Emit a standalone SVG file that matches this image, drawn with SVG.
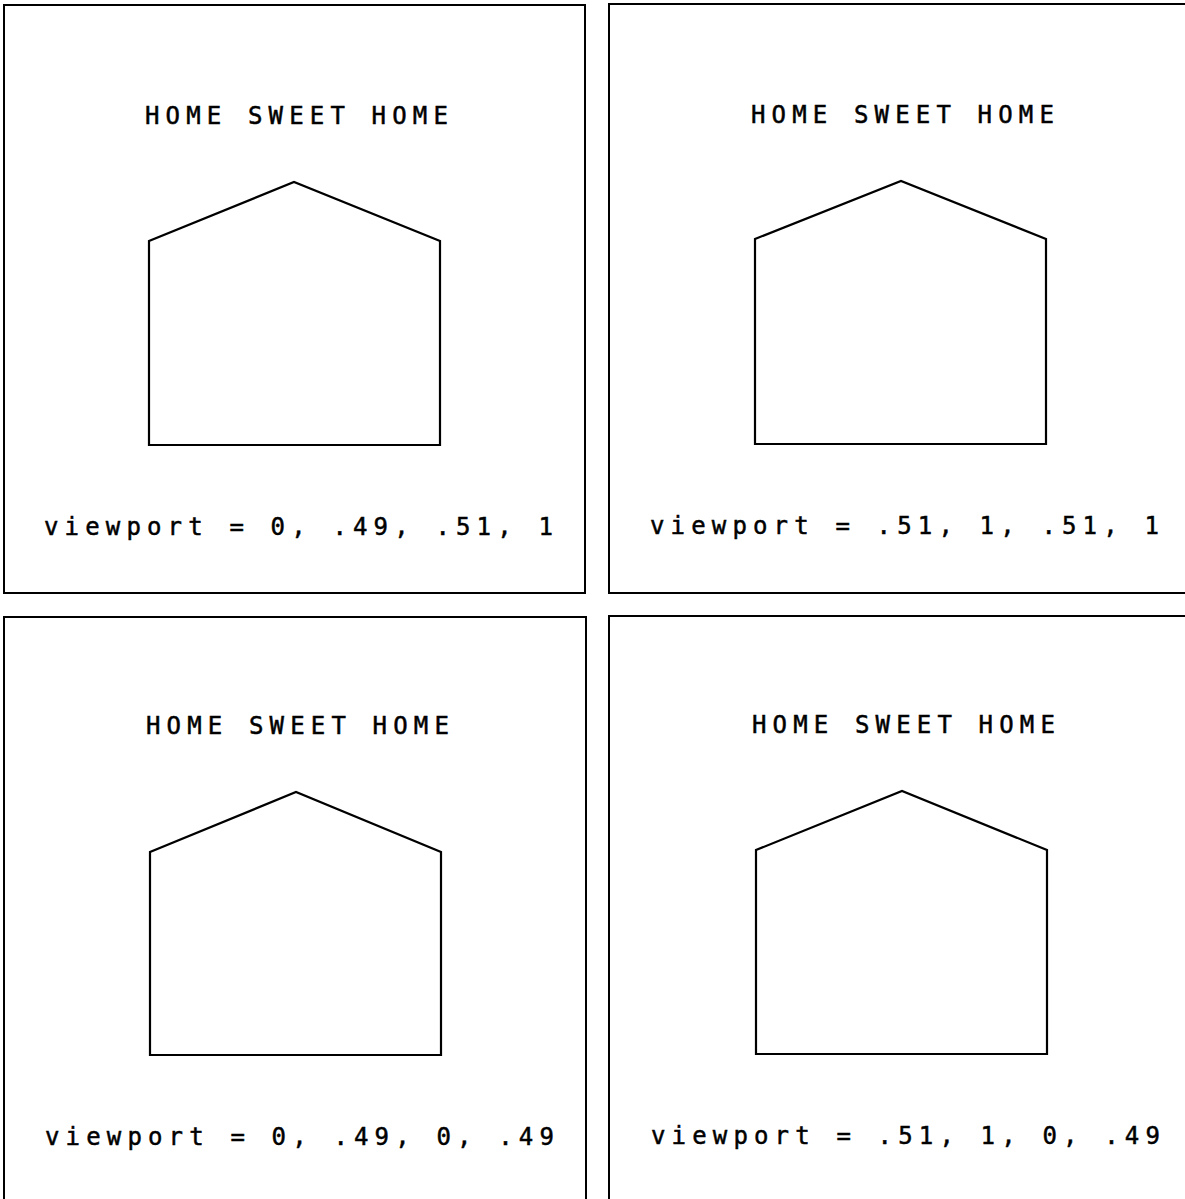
<svg xmlns="http://www.w3.org/2000/svg" width="1185" height="1199" viewBox="0 0 1185 1199">
<style>
.frame{fill:none;stroke:#000;stroke-width:2}
.house{fill:none;stroke:#000;stroke-width:2.2;stroke-linejoin:miter}
.t{font-family:"DejaVu Sans Mono","Liberation Mono",monospace;font-size:24px;fill:#000;stroke:#000;stroke-width:0.5;letter-spacing:6.15px}
</style>
<rect width="1185" height="1199" fill="#fff"/>
<g id="panel-top-left">
<rect class="frame" x="4" y="5" width="581" height="588"/>
<text class="t" x="145" y="124">HOME SWEET HOME</text>
<polygon class="house" points="149,445 149,241 294,182 440,241 440,445"/>
<text class="t" x="44" y="535">viewport = 0, .49, .51, 1</text>
</g>
<g id="panel-top-right">
<rect class="frame" x="609" y="4" width="600" height="589"/>
<text class="t" x="751" y="123">HOME SWEET HOME</text>
<polygon class="house" points="755,444 755,239 901,181 1046,239 1046,444"/>
<text class="t" x="650" y="534">viewport = .51, 1, .51, 1</text>
</g>
<g id="panel-bottom-left">
<rect class="frame" x="4" y="617" width="582" height="600"/>
<text class="t" x="146" y="734">HOME SWEET HOME</text>
<polygon class="house" points="150,1055 150,852 296,792 441,852 441,1055"/>
<text class="t" x="45" y="1145">viewport = 0, .49, 0, .49</text>
</g>
<g id="panel-bottom-right">
<rect class="frame" x="609" y="616" width="600" height="600"/>
<text class="t" x="752" y="733">HOME SWEET HOME</text>
<polygon class="house" points="756,1054 756,850 902,791 1047,850 1047,1054"/>
<text class="t" x="651" y="1144">viewport = .51, 1, 0, .49</text>
</g>
<g id="connectors"></g>
</svg>
